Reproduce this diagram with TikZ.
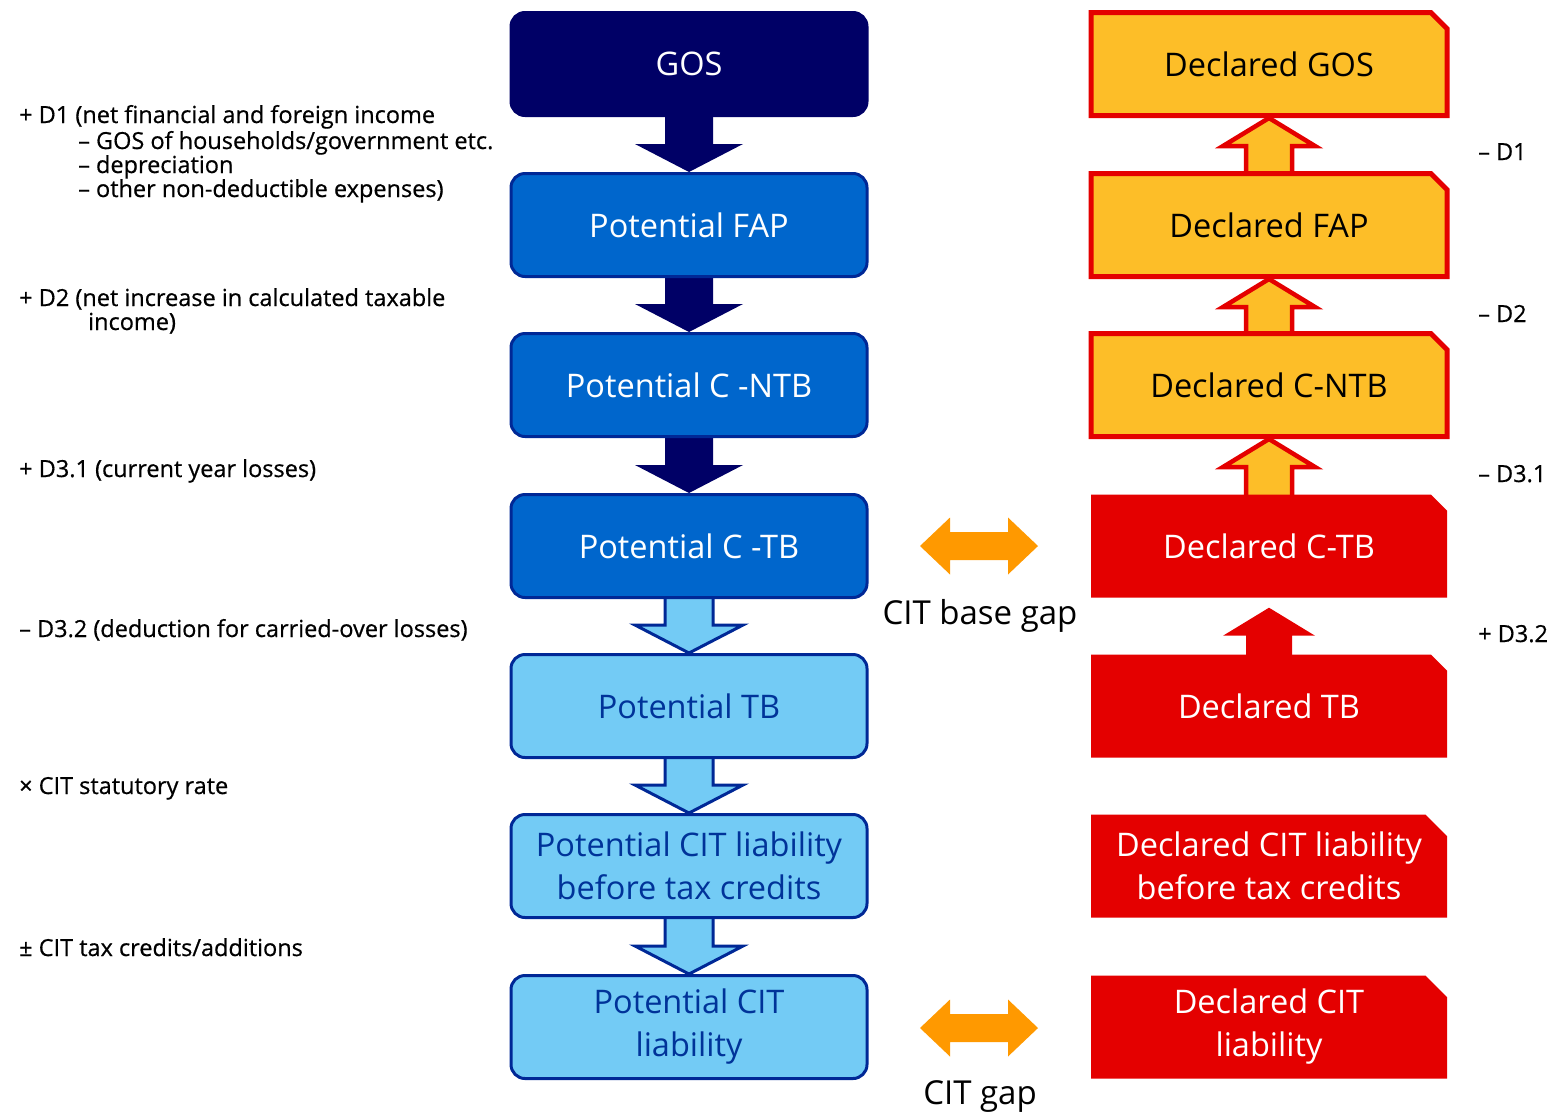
\documentclass[tikz,border=0pt]{standalone}
\usepackage{fontspec}
\setmainfont{Open Sans}
\newfontfamily\lblfam[FakeBold=0.6]{Open Sans}
\usetikzlibrary{shapes.misc,calc,backgrounds}
\definecolor{cNavy}{RGB}{0,0,102}
\definecolor{cMid}{RGB}{0,102,204}
\definecolor{cBord}{RGB}{0,40,150}
\definecolor{cLight}{RGB}{115,203,245}
\definecolor{cTxt}{RGB}{0,51,153}
\definecolor{cGold}{RGB}{253,190,40}
\definecolor{cRed}{RGB}{228,0,0}
\definecolor{cOrange}{RGB}{255,153,0}
\newcommand\boxfont{\fontsize{32.5}{43}\selectfont}
\newcommand\lblfont{\lblfam\fontsize{23.5}{24}\selectfont}
\newcommand\downblock[3]{%
  \path[#3] let \p1=(#1.south), \p2=(#2.north) in
    (\x1-24pt,\y1+6pt) -- (\x1-24pt,\y2+28pt) -- (\x1-54pt,\y2+28pt) -- (\x2,\y2)
    -- (\x1+54pt,\y2+28pt) -- (\x1+24pt,\y2+28pt) -- (\x1+24pt,\y1+6pt) -- cycle;}
\newcommand\upblock[4]{%
  \path[#3] let \p1=(#1.north), \p2=(#2.south) in
    (\x1-23pt,\y1-6pt) -- (\x1-23pt,\y2-#4-28pt) -- (\x1-46pt,\y2-#4-28pt) -- (\x2,\y2-#4)
    -- (\x1+46pt,\y2-#4-28pt) -- (\x1+23pt,\y2-#4-28pt) -- (\x1+23pt,\y1-6pt) -- cycle;}
\tikzset{
  pbox/.style={rectangle, rounded corners=14pt, minimum width=356pt, minimum height=103pt,
    line width=3pt, align=center, font=\boxfont, inner sep=0pt},
  pdark/.style={pbox, fill=cNavy, draw=cNavy, text=white},
  pmid/.style={pbox, fill=cMid, draw=cBord, text=white},
  plight/.style={pbox, fill=cLight, draw=cBord, text=cTxt},
  dbox/.style={chamfered rectangle, chamfered rectangle corners=north east,
    chamfered rectangle xsep=18pt, chamfered rectangle angle=45,
    minimum width=356pt, minimum height=103pt, align=center, font=\boxfont, inner sep=0pt},
  dgold/.style={dbox, fill=cGold, draw=cRed, line width=5pt, text=black},
  dred/.style={dbox, fill=cRed, draw=none, text=white},
  lbl/.style={anchor=base west, font=\lblfont, inner sep=0pt, text=black},
  gaplbl/.style={anchor=base, font=\fontsize{33}{36}\selectfont, inner sep=0pt, text=black},
  darr/.style={fill=cNavy},
  larr/.style={fill=cLight, draw=cBord, line width=3pt, line join=miter},
  garr/.style={fill=cGold, draw=cRed, line width=4.5pt, line join=miter},
  rarr/.style={fill=cRed},
}
\begin{document}
\begin{tikzpicture}[x=1pt,y=-1pt]
\useasboundingbox (0,0) rectangle (1565,1112);
% potential column
\node[pdark] (gos) at (689,64) {GOS};
\node[pmid] (fap) at (689,225) {Potential FAP};
\node[pmid] (cntb) at (689,385) {Potential C -NTB};
\node[pmid] (ctb) at (689,546) {Potential C -TB};
\node[plight] (tb) at (689,706) {Potential TB};
\node[plight] (citb) at (689,866) {Potential CIT liability\\before tax credits};
\node[plight] (cit) at (689,1027) {Potential CIT\\liability};
% declared column
\node[dgold] (dgos) at (1269,64) {Declared GOS};
\node[dgold] (dfap) at (1269,225) {Declared FAP};
\node[dgold] (dcntb) at (1269,385) {Declared C-NTB};
\node[dred] (dctb) at (1269,546) {Declared C-TB};
\node[dred] (dtb) at (1269,706) {Declared TB};
\node[dred] (dcitb) at (1269,866) {Declared CIT liability\\before tax credits};
\node[dred] (dcit) at (1269,1027) {Declared CIT\\liability};
% arrows
\begin{scope}[on background layer]
\downblock{gos}{fap}{darr}
\downblock{fap}{cntb}{darr}
\downblock{cntb}{ctb}{darr}
\downblock{ctb}{tb}{larr}
\downblock{tb}{citb}{larr}
\downblock{citb}{cit}{larr}
\upblock{dfap}{dgos}{garr}{0pt}
\upblock{dcntb}{dfap}{garr}{0pt}
\upblock{dctb}{dcntb}{garr}{0pt}
\upblock{dtb}{dctb}{rarr}{10pt}
\end{scope}
% gap arrows
\coordinate (g1) at (979,546);
\coordinate (g2) at (979,1028);
\foreach \g in {g1,g2}{
  \fill[cOrange, shift={(\g)}] (-59,0) -- (-29,-28.5) -- (-29,-14) -- (29,-14) -- (29,-28.5)
    -- (59,0) -- (29,28.5) -- (29,14) -- (-29,14) -- (-29,28.5) -- cycle;
}
\node[gaplbl] (gl1) at (980,624) {CIT base gap};
\node[gaplbl] (gl2) at (980,1104) {CIT gap};
% left labels
\node[lbl] (l1a) at (19,123) {+ D1 (net financial and foreign income};
\node[lbl] (l1b) at (78,149) {– GOS of households/government etc.};
\node[lbl] (l1c) at (78,173) {– depreciation};
\node[lbl] (l1d) at (78,197) {– other non-deductible expenses)};
\node[lbl] (l2a) at (19,306) {+ D2 (net increase in calculated taxable};
\node[lbl] (l2b) at (88,330) {income)};
\node[lbl] (l3) at (19,477) {+ D3.1 (current year losses)};
\node[lbl] (l4) at (19,637) {– D3.2 (deduction for carried-over losses)};
\node[lbl] (l5) at (19,794) {× CIT statutory rate};
\node[lbl] (l6) at (19,956) {± CIT tax credits/additions};
% right labels
\node[lbl] (r1) at (1478,160) {– D1};
\node[lbl] (r2) at (1478,322) {– D2};
\node[lbl] (r3) at (1478,482) {– D3.1};
\node[lbl] (r4) at (1478,642) {+ D3.2};
\end{tikzpicture}
\end{document}
